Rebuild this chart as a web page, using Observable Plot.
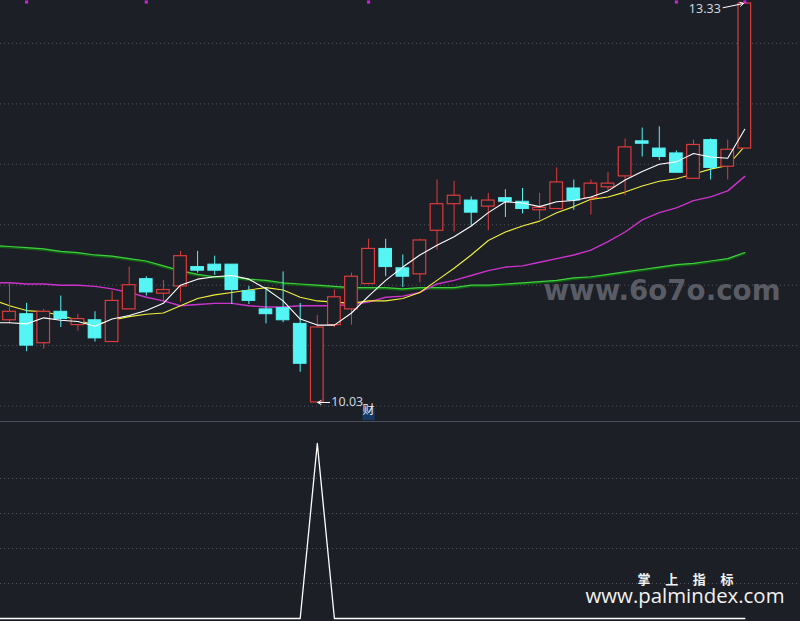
<!DOCTYPE html>
<html><head><meta charset="utf-8">
<script src="https://cdn.jsdelivr.net/npm/d3@7"></script>
<script src="https://cdn.jsdelivr.net/npm/@observablehq/plot@0.6"></script>
<style>
html,body{margin:0;padding:0;background:#1c1f26;}
#chart{width:800px;height:621px;overflow:hidden;background:#1c1f26;}
#chart svg{display:block;overflow:hidden;}
#sub{border-top:1px solid #4a4e5a;}
</style></head><body>
<div id="chart"><div id="main"></div><div id="sub"></div></div>
<script>
// daily candles, index 0..43
const opens  = [10.71,10.76,10.52,10.78,10.67,10.71,10.53,10.80,11.05,10.93,10.99,11.15,11.17,11.17,10.95,10.80,10.81,10.68,10.03,10.67,10.80,11.01,11.30,11.14,11.09,11.45,11.67,11.70,11.65,11.72,11.69,11.62,11.63,11.80,11.72,11.81,11.90,12.19,12.13,12.09,11.88,12.20,11.98,12.13];
const highs  = [11.02,10.85,10.80,10.91,10.76,10.78,10.95,11.15,11.07,11.04,11.28,11.28,11.24,11.17,10.99,10.98,11.11,10.85,10.75,10.96,11.10,11.38,11.38,11.25,11.38,11.87,11.86,11.73,11.76,11.79,11.80,11.76,11.97,11.87,11.87,11.93,12.21,12.30,12.31,12.11,12.20,12.21,12.20,13.33];
const lows   = [10.68,10.45,10.47,10.65,10.62,10.53,10.53,10.80,10.91,10.86,10.86,11.10,11.08,10.84,10.84,10.68,10.69,10.28,10.03,10.65,10.67,11.01,11.07,10.98,11.02,11.29,11.44,11.49,11.45,11.56,11.59,11.54,11.63,11.62,11.58,11.78,11.74,12.06,12.03,11.93,11.88,11.87,11.87,12.13];
const closes = [10.78,10.50,10.78,10.72,10.72,10.56,10.87,11.00,10.94,10.96,11.24,11.12,11.12,10.96,10.87,10.76,10.71,10.35,10.65,10.90,11.07,11.30,11.15,11.07,11.37,11.67,11.74,11.60,11.70,11.69,11.63,11.64,11.85,11.70,11.84,11.84,12.14,12.17,12.06,11.93,12.16,11.97,12.12,13.33];

// moving averages, index -1..43 (first value belongs to the day just left of the view)
const ma5  = [10.69,10.69,10.68,10.73,10.71,10.70,10.66,10.72,10.75,10.79,10.85,11.00,11.05,11.07,11.08,11.05,10.97,10.87,10.72,10.67,10.67,10.77,10.91,11.04,11.15,11.25,11.33,11.40,11.49,11.60,11.69,11.68,11.65,11.69,11.70,11.73,11.78,11.87,11.94,12.00,12.02,12.09,12.06,12.05,12.29];
const ma10 = [10.88,10.83,10.79,10.78,10.75,10.71,10.67,10.71,10.74,10.76,10.77,10.83,10.89,10.92,10.94,10.96,10.98,10.96,10.90,10.87,10.86,10.85,10.87,10.87,10.89,10.94,11.04,11.14,11.25,11.37,11.44,11.49,11.53,11.60,11.65,11.71,11.73,11.77,11.82,11.86,11.88,11.92,11.96,11.99,12.15];
const ma20 = [11.02,11.02,11.01,11.01,11.00,11.00,10.99,10.97,10.94,10.90,10.87,10.83,10.84,10.85,10.85,10.83,10.82,10.82,10.83,10.83,10.83,10.84,10.86,10.90,10.91,10.94,11.01,11.04,11.08,11.12,11.15,11.16,11.19,11.22,11.25,11.29,11.36,11.44,11.54,11.60,11.64,11.70,11.73,11.78,11.90];
const ma60 = [11.33,11.32,11.31,11.30,11.28,11.27,11.25,11.24,11.22,11.20,11.16,11.12,11.09,11.07,11.07,11.05,11.04,11.02,11.01,11.00,10.99,10.98,10.98,10.98,10.97,10.98,10.98,10.98,11.00,11.00,11.01,11.02,11.03,11.04,11.06,11.07,11.09,11.11,11.13,11.15,11.17,11.18,11.20,11.22,11.27];

// lower indicator, index -1..43
const indicator = [0,0,0,0,0,0,0,0,0,0,0,0,0,0,0,0,0,0,0,100,0,0,0,0,0,0,0,0,0,0,0,0,0,0,0,0,0,0,0,0,0,0,0,0,0];

const signalIdx = [1, 8, 21, 39, 43];
const eventIdx = [21];
const eventText = ["财"];
const priceTicks = [10, 10.5, 11, 11.5, 12, 12.5, 13];
const subTicks = [20, 40, 60, 80];
const wmSite = "www.6o7o.com";
const wmName = "掌 上 指 标";
const wmUrl = "www.palmindex.com";

const BG = "#1c1f26", RED = "#dc3c3c", CYAN = "#55f5f5", GRID = "#50545d";
const candles = opens.map((o, i) => ({i, o, h: highs[i], l: lows[i], c: closes[i]}));
const up = candles.filter(d => d.c >= d.o);
const down = candles.filter(d => d.c < d.o);
const hiC = candles.reduce((a, b) => b.h > a.h ? b : a);
const loC = candles.reduce((a, b) => b.l < a.l ? b : a);
const series = arr => arr.map((v, k) => ({i: k - 1, v}));

const xs = {type: "linear", domain: [-0.526, 46.257], axis: null};

const main = Plot.plot({
  width: 800, height: 421, margin: 0,
  x: xs,
  y: {domain: [9.8726, 13.3548], axis: null},
  style: {background: "transparent", overflow: "hidden"},
  marks: [
    Plot.ruleY(priceTicks, {stroke: GRID, strokeDasharray: "1,3", strokeWidth: 1}),
    Plot.text([wmSite], {text: d => d, frameAnchor: "top-right", dx: -20, dy: 299, lineAnchor: "bottom", textAnchor: "end",
      fill: "#595c64", fontSize: 29, fontWeight: "bold", fontFamily: "DejaVu Sans"}),
    Plot.line(series(ma60), {x: "i", y: "v", stroke: "#135e13", strokeWidth: 2.2, dy: 1, clip: true}),
    Plot.line(series(ma60), {x: "i", y: "v", stroke: "#3fd03f", strokeWidth: 1.2, clip: true}),
    Plot.line(series(ma20), {x: "i", y: "v", stroke: "#cc33cc", strokeWidth: 1.4, clip: true}),
    Plot.line(series(ma10), {x: "i", y: "v", stroke: "#f2f23c", strokeWidth: 1.1, clip: true}),
    Plot.ruleX(up, {x: "i", y1: "l", y2: "h", stroke: RED, strokeWidth: 1}),
    Plot.ruleX(down, {x: "i", y1: "l", y2: "h", stroke: CYAN, strokeWidth: 1}),
    Plot.rect(up, {x1: d => d.i - 0.37, x2: d => d.i + 0.37, y1: "o", y2: "c", fill: BG, stroke: RED, strokeWidth: 1.2}),
    Plot.rect(down, {x1: d => d.i - 0.37, x2: d => d.i + 0.37, y1: "o", y2: "c", fill: CYAN, stroke: CYAN, strokeWidth: 1}),
    Plot.line(series(ma5), {x: "i", y: "v", stroke: "#ffffff", strokeWidth: 1.1, clip: true}),
    Plot.dot(signalIdx, {x: d => d, frameAnchor: "top", dy: 1.5, symbol: "square", r: 1.75, fill: "#d41ee0", stroke: "none"}),
    Plot.arrow([hiC], {x1: d => d.i - 1.27, y1: d => d.h - 0.035, x2: d => d.i - 0.07, y2: "h", stroke: "#ffffff", strokeWidth: 1, headLength: 6, bend: 0}),
    Plot.text([hiC], {x: "i", y: "h", text: d => d.h.toFixed(2), dx: -24, dy: 6, textAnchor: "end", fill: "#ccd5de", fontSize: 12.5, fontFamily: "Noto Sans"}),
    Plot.arrow([loC], {x1: d => d.i + 0.72, y1: "l", x2: d => d.i + 0.02, y2: "l", stroke: "#ffffff", strokeWidth: 1, headLength: 6, bend: 0}),
    Plot.text([loC], {x: "i", y: "l", text: d => d.l.toFixed(2), dx: 14, textAnchor: "start", fill: "#ccd5de", fontSize: 12.5, fontFamily: "Noto Sans"}),
    Plot.dot(eventIdx, {x: d => d, frameAnchor: "bottom", dy: -7.5, symbol: "square", r: 7, fill: "#163a63", stroke: "none"}),
    Plot.text(eventIdx, {x: d => d, frameAnchor: "bottom", dy: -7.5, text: (d, k) => eventText[k], fill: "#e6eef8", fontSize: 12, fontFamily: "Noto Sans CJK SC"})
  ]
});

const sub = Plot.plot({
  width: 800, height: 199, margin: 0,
  x: xs,
  y: {domain: [-1.714, 112], axis: null},
  style: {background: "transparent", overflow: "hidden"},
  marks: [
    Plot.ruleY(subTicks, {stroke: GRID, strokeDasharray: "1,3", strokeWidth: 1}),
    Plot.line(series(indicator), {x: "i", y: "v", stroke: "#ffffff", strokeWidth: 1.3, clip: true}),
    Plot.text([wmName], {text: d => d, frameAnchor: "top-left", dx: 685, dy: 161, lineAnchor: "bottom", textAnchor: "middle",
      fill: "#f2f2f2", fontSize: 13, fontWeight: "bold", fontFamily: "Noto Sans CJK SC"}),
    Plot.text([wmUrl], {text: d => d, frameAnchor: "top-left", dx: 585, dy: 180, lineAnchor: "bottom", textAnchor: "start",
      fill: "#f2f2f2", fontSize: 20, fontFamily: "Open Sans"})
  ]
});

document.getElementById("main").appendChild(main);
document.getElementById("sub").appendChild(sub);

function fit(svg, str, len, adjust) {
  d3.select(svg).selectAll("text").filter(function() { return this.textContent === str; })
    .attr("textLength", len).attr("lengthAdjust", adjust).style("white-space", "pre");
}
fit(main, wmSite, 237, "spacingAndGlyphs");
fit(sub, wmName, 96, "spacing");
fit(sub, wmUrl, 199, "spacingAndGlyphs");
</script>
</body></html>
